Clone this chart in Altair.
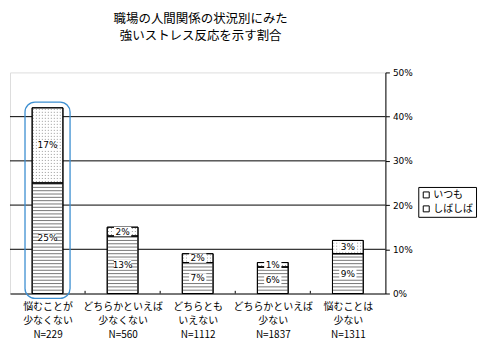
import json
import altair as alt
import numpy as np
import pandas as pd

# ---- data ----
title_lines = ["職場の人間関係の状況別にみた", "強いストレス反応を示す割合"]
categories = [
    "悩むことが|少なくない|N=229",
    "どちらかといえば|少なくない|N=560",
    "どちらとも|いえない|N=1112",
    "どちらかといえば|少ない|N=1837",
    "悩むことは|少ない|N=1311",
]
shibashiba = [25, 13, 7, 6, 9]   # しばしば (bottom, striped)
itsumo = [17, 2, 2, 1, 3]        # いつも (top, dotted)
series_names = ["いつも", "しばしば"]
y_ticks = [0, 10, 20, 30, 40, 50]
grid_values = [10, 20, 30, 40]
highlight_index = 0

# ---- style constants ----
HALF = 0.205      # half bar width in category units
HATCH = 0.75      # spacing of stripes (in %)
DOT = 0.68        # spacing of dot rows (in %)
FONT = "Noto Sans CJK JP"
W, H = 377, 222

# ---- tables built from the arrays ----
seg_rows, hatch_rows, dot_rows = [], [], []
for i in range(len(categories)):
    c = i + 0.5
    b, t = shibashiba[i], itsumo[i]
    seg_rows.append(dict(series="しばしば", x=c - HALF, x2=c + HALF, y=0, y2=b,
                         mid=b / 2, label=f"{b}%"))
    seg_rows.append(dict(series="いつも", x=c - HALF, x2=c + HALF, y=b, y2=b + t,
                         mid=b + t / 2, label=f"{t}%"))
    for v in np.arange(HATCH, b - 0.1, HATCH):
        hatch_rows.append(dict(x=c - HALF, x2=c + HALF, y=v))
    for v in np.arange(b + DOT / 2, b + t - 0.1, DOT):
        dot_rows.append(dict(x=c - HALF + 0.01, x2=c + HALF, y=v))
seg = pd.DataFrame(seg_rows)
hatch = pd.DataFrame(hatch_rows)
dots = pd.DataFrame(dot_rows)
grid = pd.DataFrame({"v": grid_values})
bounds = pd.DataFrame({"b": list(range(1, len(categories)))})
hc = highlight_index + 0.5
hl = pd.DataFrame([dict(x=hc - 0.3, x2=hc + 0.3, y=-1.1,
                        y2=shibashiba[highlight_index] + itsumo[highlight_index] + 1.3)])

XS = alt.Scale(domain=[0, len(categories)], nice=False, zero=False)
YS = alt.Scale(domain=[0, 50], nice=False, zero=False)

label_expr = "split(" + json.dumps(categories, ensure_ascii=False) + "[floor(datum.value)], '|')"
x_axis = alt.Axis(values=[i + 0.5 for i in range(len(categories))], labelExpr=label_expr,
                  ticks=False, domain=True, domainColor="black", grid=False, title=None,
                  labelFont=FONT, labelFontSize=10, labelLineHeight=14, labelPadding=8,
                  labelColor="black", labelAngle=0, labelBaseline="top", labelOverlap=False)
y_axis = alt.Axis(orient="right", values=y_ticks, labelExpr="datum.value + '%'",
                  ticks=True, tickColor="black", tickSize=4, domain=True, domainColor="black",
                  grid=False, title=None, labelFont="DejaVu Sans", labelFontSize=9,
                  labelColor="black", labelPadding=3)


def X(field):
    return alt.X(field, type="quantitative", scale=XS, axis=x_axis)


def Y(field):
    return alt.Y(field, type="quantitative", scale=YS, axis=y_axis)


grid_layer = alt.Chart(grid).mark_rule(color="black", strokeWidth=1).encode(
    x=alt.datum(0, scale=XS, axis=x_axis), x2=alt.datum(len(categories)), y=Y("v"))

bars = alt.Chart(seg).mark_rect(stroke="black", strokeWidth=1).encode(
    x=X("x"), x2="x2", y=Y("y"), y2="y2",
    fill=alt.Fill("series:N",
                  scale=alt.Scale(domain=series_names, range=["white", "white"]),
                  legend=alt.Legend(orient="none", legendX=410, legendY=115, title=None,
                                    symbolType="square", symbolSize=36,
                                    symbolStrokeColor="black", symbolStrokeWidth=1,
                                    labelFont=FONT, labelFontSize=10, labelColor="black",
                                    labelOffset=2, padding=3, rowPadding=4,
                                    strokeColor="black", fillColor="white")))

hatch_layer = alt.Chart(hatch).mark_rule(color="#777", strokeWidth=1).encode(
    x=X("x"), x2="x2", y=Y("y"))

dot_layer = alt.Chart(dots).mark_rule(color="#999", strokeWidth=1, strokeDash=[1, 2]).encode(
    x=X("x"), x2="x2", y=Y("y"))

outline = alt.Chart(seg).mark_rect(fill=None, stroke="black", strokeWidth=1).encode(
    x=X("x"), x2="x2", y=Y("y"), y2="y2")

label_bg = alt.Chart(seg).mark_point(shape="M-1,-0.55H1V0.55H-1Z", filled=True, fill="white",
                                     opacity=1, size=300, strokeWidth=0).encode(
    x=alt.X("xc:Q", scale=XS, axis=x_axis), y=Y("mid")).transform_calculate(
    xc="(datum.x + datum.x2) / 2")

labels = alt.Chart(seg).mark_text(font="DejaVu Sans", fontSize=9, color="black").encode(
    x=alt.X("xc:Q", scale=XS, axis=x_axis), y=Y("mid"), text="label:N").transform_calculate(
    xc="(datum.x + datum.x2) / 2")

bound_ticks = alt.Chart(bounds).mark_rule(color="black").encode(
    x=X("b"), y=alt.datum(0, scale=YS, axis=y_axis), y2=alt.datum(0.6))

highlight = alt.Chart(hl).mark_rect(fill=None, stroke="#3d8fd1", strokeWidth=1.3,
                                   cornerRadius=10).encode(
    x=X("x"), x2="x2", y=Y("y"), y2="y2")

chart = alt.layer(grid_layer, bars, hatch_layer, dot_layer, outline, label_bg, labels,
                  bound_ticks, highlight).properties(
    width=W, height=H,
    title=alt.TitleParams(text=title_lines, font=FONT, fontSize=12.5, fontWeight="normal",
                          color="black", anchor="middle", offset=26, lineHeight=17, dx=3),
    padding={"left": 1, "top": 4, "right": 5, "bottom": 5},
).configure_view(stroke="#888", strokeWidth=1).configure(background="white")

chart.save("out.html", embed_options={"renderer": "svg", "actions": False})
